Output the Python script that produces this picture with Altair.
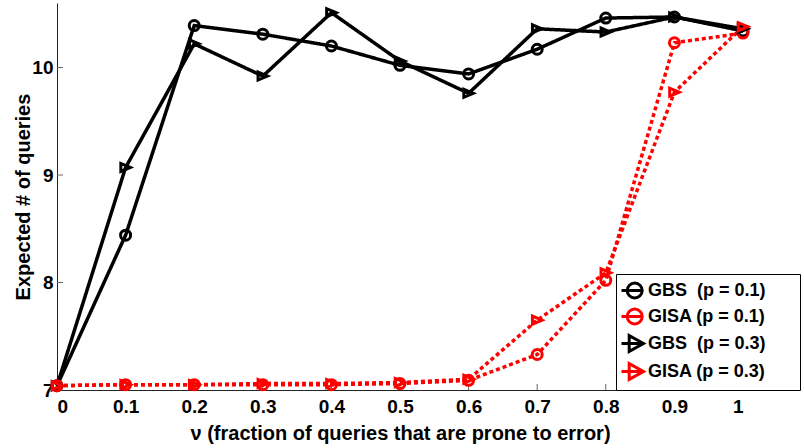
import altair as alt
import pandas as pd

NB = "\u00a0"
PAD = NB * 6 + "\u200b"

xs = [0, 0.1, 0.2, 0.3, 0.4, 0.5, 0.6, 0.7, 0.8, 0.9, 1.0]
gbs_p01 = [7.04, 8.44, 10.39, 10.31, 10.20, 10.02, 9.94, 10.17, 10.46, 10.47, 10.34]
gisa_p01 = [7.04, 7.05, 7.05, 7.05, 7.05, 7.06, 7.09, 7.33, 8.02, 10.23, 10.32]
gbs_p03 = [7.04, 9.07, 10.22, 9.92, 10.51, 10.06, 9.76, 10.36, 10.33, 10.47, 10.36]
gisa_p03 = [7.04, 7.05, 7.05, 7.06, 7.06, 7.07, 7.10, 7.65, 8.09, 9.77, 10.38]

series_names = [
    "GBS" + NB + NB + "(p = 0.1)" + PAD,
    "GISA (p = 0.1)" + PAD,
    "GBS" + NB + NB + "(p = 0.3)" + PAD,
    "GISA (p = 0.3)" + PAD,
]
series_values = [gbs_p01, gisa_p01, gbs_p03, gisa_p03]
series_colors = ["#000000", "#ff0000", "#000000", "#ff0000"]
series_dash = [[1, 0], [4, 3], [1, 0], [4, 3]]

x_ticks = [0, 0.1, 0.2, 0.3, 0.4, 0.5, 0.6, 0.7, 0.8, 0.9, 1.0]
y_ticks = [7, 8, 9, 10]

rows = []
for order, (name, vals) in enumerate(zip(series_names, series_values)):
    for x, y in zip(xs, vals):
        rows.append({"x": x, "y": y, "series": name, "order": order})
df = pd.DataFrame(rows)

W, H = 686, 387
FONT = "Liberation Sans"

xscale = alt.Scale(domain=[0, 1], nice=False, zero=False)
yscale = alt.Scale(domain=[7, 10.6], nice=False, zero=False)

xaxis = alt.Axis(
    values=x_ticks, format="~g", title="\u03bd (fraction of queries that are prone to error)",
    grid=False, ticks=False, labelPadding=7, domainColor="#222222", domainWidth=1,
    labelFont=FONT, labelFontSize=19, labelFontWeight="bold", labelColor="#000000",
    titleFont=FONT, titleFontSize=20, titleFontWeight="bold", titleColor="#000000",
    titleBaseline="middle", titleY=43, titleX=W / 2,
)
yaxis = alt.Axis(
    values=y_ticks, format="d", title="Expected # of queries",
    grid=False, ticks=False, labelPadding=4, domainColor="#222222", domainWidth=1,
    labelFont=FONT, labelFontSize=19, labelFontWeight="bold", labelColor="#000000",
    titleFont=FONT, titleFontSize=20, titleFontWeight="bold", titleColor="#000000",
    titleBaseline="middle", titleX=-34, titleY=H / 2,
)

X = alt.X("x:Q", scale=xscale, axis=xaxis)
Y = alt.Y("y:Q", scale=yscale, axis=yaxis)

color_scale = alt.Scale(domain=series_names, range=series_colors)

lines = alt.Chart(df).mark_line(strokeWidth=3.5).encode(
    x=X, y=Y,
    color=alt.Color("series:N", scale=color_scale, legend=None),
    strokeDash=alt.StrokeDash("series:N", scale=alt.Scale(domain=series_names, range=series_dash), legend=None),
    order=alt.Order("x:Q"),
)

tri = "M0.95,0L-0.95,-0.8L-0.95,0.8Z"
points = alt.Chart(df).mark_point(filled=False, strokeWidth=3, opacity=1).encode(
    x=X, y=Y,
    color=alt.Color("series:N", scale=color_scale, legend=None),
    shape=alt.Shape("series:N", scale=alt.Scale(domain=series_names,
                                                range=["circle", "circle", tri, tri]), legend=None),
    size=alt.Size("series:N", scale=alt.Scale(domain=series_names, range=[100, 100, 256, 256]), legend=None),
)

leg_circle = "M-1,0H1M0.88,0A0.68,0.68,0,1,1,-0.48,0A0.68,0.68,0,1,1,0.88,0"
leg_tri = "M-1,0H0.9M1,0L-0.3,-0.72L-0.3,0.72Z"


def make_legend():
    return alt.Legend(
        orient="none", legendX=559, legendY=271, title=None,
        strokeColor="#000000", fillColor="#ffffff", padding=4,
        rowPadding=-1, symbolSize=484, symbolStrokeWidth=3,
        symbolOffset=0, labelOffset=3, labelLimit=400,
        labelFont=FONT, labelFontSize=18, labelFontWeight="bold",
        labelColor="#000000",
    )


legend_layer = alt.Chart(df).mark_point(filled=False, strokeWidth=3, opacity=1).encode(
    x=X, y=Y,
    color=alt.Color("series:N", scale=color_scale, title=None, legend=make_legend()),
    shape=alt.Shape("series:N", title=None,
                    scale=alt.Scale(domain=series_names,
                                    range=[leg_circle, leg_circle, leg_tri, leg_tri]),
                    legend=make_legend()),
).transform_filter("datum.x > 5")

ytick_df = pd.DataFrame({"y": y_ticks})
xtick_df = pd.DataFrame({"x": x_ticks})

yticks = alt.Chart(ytick_df).mark_rule(color="#666666", strokeWidth=1).encode(
    y=Y, x=alt.value(0), x2=alt.value(6)
)
xticks = alt.Chart(xtick_df).mark_rule(color="#666666", strokeWidth=1).encode(
    x=X, y=alt.value(H), y2=alt.value(H - 6)
)

chart = alt.layer(yticks, xticks, lines, points, legend_layer).resolve_scale(
    color="independent", shape="independent"
).properties(
    width=W, height=H,
    autosize=alt.AutoSizeParams(type="none"),
    padding={"left": 57, "top": 3, "right": 804 - 57 - W, "bottom": 448 - 3 - H},
    background="#ffffff",
).configure_view(stroke=None)

chart.save("out.html", embed_options={"renderer": "svg", "actions": False})
